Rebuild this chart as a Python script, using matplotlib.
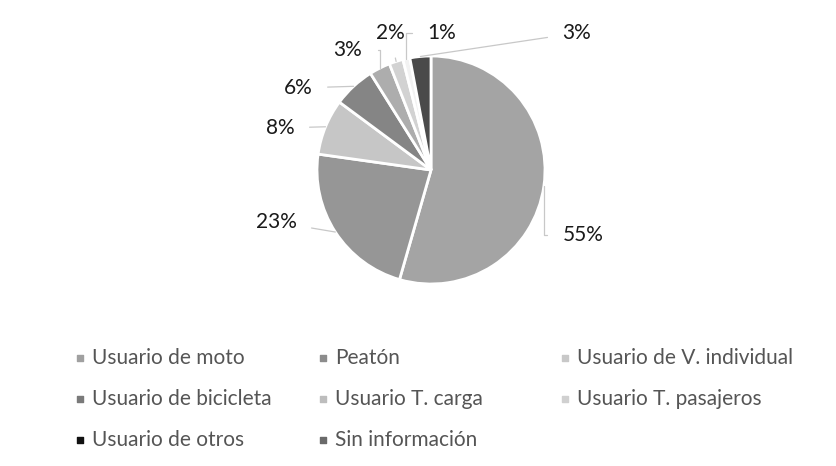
import numpy as np
import matplotlib.pyplot as plt

plt.rcParams['font.family'] = ['Lato', 'DejaVu Sans']

# datos del grafico
categorias = ['Usuario de moto', 'Peatón', 'Usuario de V. individual', 'Usuario de bicicleta',
              'Usuario T. carga', 'Usuario T. pasajeros', 'Usuario de otros', 'Sin información']
porcentajes = [55, 23, 8, 6, 3, 2, 1, 3]
colores = ['#a4a4a4', '#969696', '#c6c6c6', '#858585', '#adadad', '#d2d2d2', '#f2f2f2', '#4a4a4a']
colores_leyenda = ['#a0a0a0', '#8c8c8c', '#c8c8c8', '#7a7a7a', '#bdbdbd', '#d0d0d0', '#111111', '#6a6a6a']

# posicion de las etiquetas (pixeles) y estilo de la linea guia
etiquetas_px = [(583, 235), (276, 222), (280, 128), (298, 88), (348, 50), (390, 33), (442, 33), (577, 33)]
conexiones = ['angle,angleA=0,angleB=90,rad=0', 'arc3', 'arc3', 'arc3',
              'angle,angleA=0,angleB=90,rad=0', 'arc3', 'angle,angleA=0,angleB=90,rad=0', 'arc3']

W, H = 836, 466
CX, CY, R = 431, 170, 114


def px2x(px):
    return (px - CX) / R


def py2y(py):
    return (CY - py) / R


fig = plt.figure(figsize=(W / 100, H / 100), dpi=100)
ax = fig.add_axes([0, 0, 1, 1])
wedges, _ = ax.pie(porcentajes, colors=colores, startangle=90, counterclock=False,
                   wedgeprops=dict(edgecolor='white', linewidth=2))
ax.set_xlim(px2x(0), px2x(W))
ax.set_ylim(py2y(H), py2y(0))
ax.axis('off')

for w, val, (lx, ly), con in zip(wedges, porcentajes, etiquetas_px, conexiones):
    ang = np.deg2rad((w.theta1 + w.theta2) / 2)
    xy = (np.cos(ang), np.sin(ang))
    ax.annotate(f'{val}%', xy=xy, xytext=(px2x(lx), py2y(ly)), ha='center', va='center',
                fontsize=15, color='#1a1a1a',
                arrowprops=dict(arrowstyle='-', color='#c8c8c8', lw=0.9, connectionstyle=con,
                                shrinkA=9, shrinkB=0))

# leyenda manual en tres columnas
col_x = [80, 323, 565]
fila_y = [358, 399, 440]
for i, (cat, c) in enumerate(zip(categorias, colores_leyenda)):
    fila, col = divmod(i, 3)
    ax.scatter(px2x(col_x[col]), py2y(fila_y[fila]), marker='s', s=18, color=c)
    ax.text(px2x(col_x[col] + 12), py2y(fila_y[fila]), cat, ha='left', va='center',
            fontsize=15, color='#555555')

fig.savefig('out.png', dpi=100)
